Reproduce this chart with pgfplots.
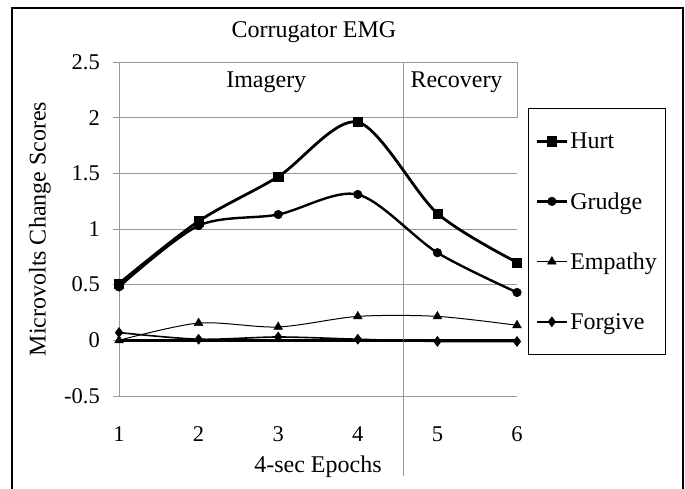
\documentclass[border=0pt]{standalone}
\usepackage{pgfplots}
\pgfplotsset{compat=1.18}
\usepackage{fontspec}
\setmainfont{Liberation Serif}
\newcommand{\cf}{\fontsize{24bp}{28bp}\selectfont}
\newcommand{\tf}{\fontsize{22.5bp}{27bp}\selectfont}
\definecolor{gridgray}{gray}{0.6}
\begin{document}
\begin{tikzpicture}
\begin{axis}[
  at={(0,0)}, anchor=south west,
  scale only axis, width=398bp, height=334bp,
  xmin=1, xmax=6, ymin=-0.5, ymax=2.5,
  clip=false,
  font=\cf,
  tick label style={font=\tf},
  axis lines*=left,
  axis line style={gridgray, line width=0.9bp},
  xtick={1,2,3,4,5,6},
  xticklabels={1,2,3,4,5,6},
  ytick={-0.5,0,0.5,1,1.5,2,2.5},
  yticklabels={-0.5,0,0.5,1,1.5,2,2.5},
  xtick style={draw=none},
  ytick style={gridgray, line width=0.9bp},
  tick align=outside,
  major tick length=6bp,
  xticklabel style={anchor=center, yshift=-32bp},
  yticklabel style={anchor=east, inner sep=0pt, xshift=-13bp},
  ymajorgrids,
  grid style={gridgray, line width=0.9bp},
  every axis title shift=0pt,
  title={Corrugator EMG},
  title style={at={(rel axis cs:0.49,1.0898)}, anchor=center, font=\cf},
  xlabel={4-sec Epochs},
  xlabel style={at={(rel axis cs:0.5,-0.2126)}, anchor=center, font=\cf},
  ylabel={Microvolts Change Scores},
  ylabel style={at={(rel axis cs:-0.1985,0.5)}, anchor=center, font=\cf},
  legend style={at={(rel axis cs:1.0276,0.862)}, anchor=north west,
    draw=black, line width=1bp, fill=white,
    inner xsep=7bp, inner ysep=18bp, row sep=31bp, font=\cf,
    nodes={inner sep=2bp, text height=20.4bp, text depth=4.8bp},
    cells={anchor=west}},
  legend image code/.code={%
    \draw[mark repeat=2,mark phase=2,#1] plot coordinates {(0bp,0bp) (15bp,0bp) (30bp,0bp)};},
]
% zero line (category axis)
\draw[black, line width=2.6bp] (axis cs:1,0) -- (axis cs:6,0);
% divider
\draw[gridgray, line width=0.9bp] (axis cs:4.57,2.5) -- (axis cs:4.57,-1.22);
\draw[gridgray, line width=0.9bp] (axis cs:6,2) -- (axis cs:6,2.5);
\node[font=\cf] at (axis cs:2.85,2.316) {Imagery};
\node[font=\cf] at (axis cs:5.24,2.316) {Recovery};

\addplot[black, line width=2.8bp, smooth, mark=square*, mark size=4.6bp,
  mark options={solid, line width=0.5bp}]
  coordinates {(1,0.51) (2,1.07) (3,1.47) (4,1.96) (5,1.14) (6,0.70)};
\addlegendentry{Hurt}
\addplot[black, line width=2.4bp, smooth, mark=*, mark size=4.3bp,
  mark options={solid, line width=0.5bp}]
  coordinates {(1,0.48) (2,1.03) (3,1.13) (4,1.31) (5,0.787) (6,0.43)};
\addlegendentry{Grudge}
\addplot[black, line width=1bp, smooth, mark=triangle*, mark size=5bp,
  mark options={solid, line width=0.5bp}]
  coordinates {(1,0.0) (2,0.155) (3,0.12) (4,0.215) (5,0.215) (6,0.135)};
\addlegendentry{Empathy}
\addplot[black, line width=1.6bp, smooth, mark=diamond*, mark size=5bp,
  mark options={solid, line width=0.5bp}]
  coordinates {(1,0.07) (2,0.01) (3,0.03) (4,0.01) (5,-0.01) (6,-0.01)};
\addlegendentry{Forgive}
\end{axis}
\draw[black, line width=1.5bp] (-107bp,-100bp) -- (-107bp,388bp) -- (564bp,388bp) -- (564bp,-100bp);
\pgfresetboundingbox
\path[use as bounding box] (-119bp,-93bp) rectangle (566bp,396bp);
\end{tikzpicture}
\end{document}
